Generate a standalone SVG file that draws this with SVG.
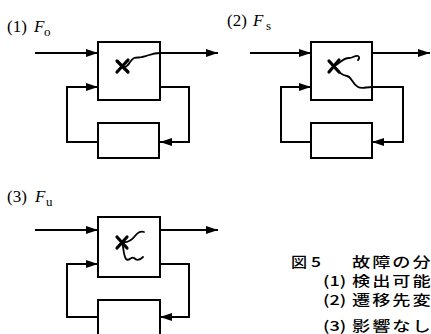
<svg xmlns="http://www.w3.org/2000/svg" width="431" height="334" viewBox="0 0 431 334">
<style>
.bx{fill:none;stroke:#000;stroke-width:2}
.ln{fill:none;stroke:#000;stroke-width:2;marker-end:url(#ah)}
.cr{fill:none;stroke:#000;stroke-width:3.2;stroke-linecap:round}
.wv{fill:none;stroke:#000;stroke-width:1.8;stroke-linecap:round}
.lb{font-family:"Liberation Serif","Times New Roman",serif;font-size:17px;fill:#000}
.it{font-style:italic}
.sb{font-size:13px}
.cj{font-family:"Noto Sans CJK JP","Noto Sans",sans-serif;font-size:14px;font-weight:500;fill:#000}
.cjs{letter-spacing:1.5px}
</style>
<defs>
<marker id="ah" markerUnits="userSpaceOnUse" markerWidth="12" markerHeight="8" refX="12" refY="4" orient="auto">
<path d="M0,0 L12,4 L0,8 z" fill="#000"/>
</marker>
</defs>
<rect width="431" height="334" fill="#fff"/>

<g id="label1">
<text class="lb" x="7" y="32">(1)</text>
<text class="lb it" x="34" y="32">F</text>
<text class="lb sb" x="44" y="36">o</text>
</g>
<g id="label2">
<text class="lb" x="227" y="26">(2)</text>
<text class="lb it" x="253" y="26">F</text>
<text class="lb sb" x="266" y="30">s</text>
</g>
<g id="label3">
<text class="lb" x="7" y="202">(3)</text>
<text class="lb it" x="35" y="202">F</text>
<text class="lb sb" x="46" y="206">u</text>
</g>

<g id="p1-main">
<rect class="bx" x="98" y="42" width="62" height="58"/>
<path class="cr" d="M117,61 L128,72 M128,60 L117,72"/>
<path class="wv" d="M125,67 C129,66 130,60 134,58 C137,57 139,58 142,57 C148,56 152,53 160,53"/>
</g>
<g id="p1-fb">
<rect class="bx" x="98" y="123" width="61" height="35"/>
</g>
<g id="p2-main">
<rect class="bx" x="311" y="42" width="61" height="58"/>
<path class="cr" d="M329,61 L339,72 M339,60 L329,72"/>
<path class="wv" d="M334,66 C340,64 342,58 349,58 C353,58 355,55 358,56 C360,57 359,59 358,60"/>
<path class="wv" d="M334,67 C338,72 342,75 347,76 C352,77 352,84 358,87 C362,89 366,87 372,87"/>
</g>
<g id="p2-fb">
<rect class="bx" x="311" y="123" width="61" height="35"/>
</g>
<g id="p3-main">
<rect class="bx" x="98" y="217" width="62" height="60"/>
<path class="cr" d="M117,237 L127,248 M127,237 L117,248"/>
<path class="wv" d="M122,242 C128,243 132,240 135,236 C138,232 141,231 144,232"/>
<path class="wv" d="M122,243 C124,248 123,254 126,259 C129,262 131,256 134,258 C137,261 140,260 143,257"/>
</g>
<g id="p3-fb">
<rect class="bx" x="98" y="300" width="62" height="40"/>
</g>

<g id="connectors">
<path class="ln" d="M35,53 H98"/>
<path class="ln" d="M160,53 H218"/>
<path class="ln" d="M160,87 H189 V142 H160"/>
<path class="ln" d="M98,142 H67 V87 H98"/>
<path class="ln" d="M250,53 H311"/>
<path class="ln" d="M372,53 H430"/>
<path class="ln" d="M372,87 H403 V142 H372"/>
<path class="ln" d="M311,142 H281 V87 H311"/>
<path class="ln" d="M35,230 H98"/>
<path class="ln" d="M160,230 H218"/>
<path class="ln" d="M160,264 H189 V317 H160"/>
<path class="ln" d="M98,317 H67 V264 H98"/>
</g>

<g id="caption">
<text class="cj" transform="translate(291,267) scale(1.15,1)">図</text>
<text class="cj" transform="translate(311,267) scale(1.25,1)">5</text>
<text class="cj cjs" transform="translate(352,267) scale(1.3,1)">故障の分</text>
<text class="cj" transform="translate(323,286) scale(1.3,1)">(1)</text>
<text class="cj cjs" transform="translate(352,286) scale(1.3,1)">検出可能</text>
<text class="cj" transform="translate(323,305) scale(1.3,1)">(2)</text>
<text class="cj cjs" transform="translate(352,305) scale(1.3,1)">遷移先変</text>
<text class="cj" transform="translate(323,331) scale(1.3,1)">(3)</text>
<text class="cj cjs" transform="translate(352,331) scale(1.3,1)">影響なし</text>
</g>
</svg>
